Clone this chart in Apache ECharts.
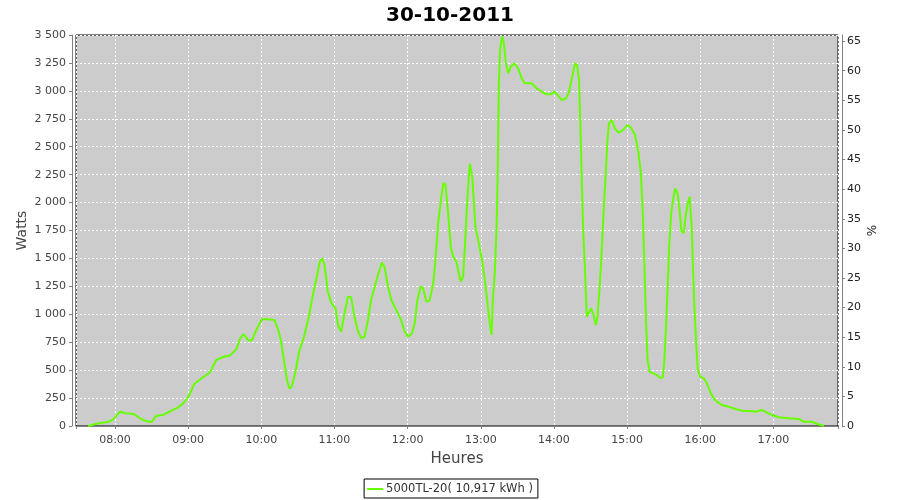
<!DOCTYPE html>
<html>
<head>
<meta charset="utf-8">
<script src="https://cdn.jsdelivr.net/npm/echarts@6/dist/echarts.min.js"></script>
<style>html,body{margin:0;padding:0;background:#fff}#c{width:900px;height:500px}</style>
</head>
<body>
<div id="c"></div>
<script>
const title = '30-10-2011';
const seriesName = '5000TL-20( 10,917 kWh )';
const times = ['07:38','07:45','07:49','07:54:30','07:58:40','08:04','08:09:30','08:15:30','08:20:30','08:26','08:30','08:33:40','08:39:50','08:46:40','08:52','08:56','09:00:20','09:05','09:11','09:17:40','09:23','09:29','09:34:30','09:39:30','09:42:40','09:45:30','09:49:40','09:52:25','09:56:30','10:00:35','10:05','10:10:40','10:13:30','10:16','10:19','10:21','10:23','10:25','10:28','10:31','10:35','10:39','10:42','10:45:30','10:48','10:50','10:51:50','10:54:35','10:57:20','11:00:50','11:02:50','11:05:30','11:08','11:11','11:13:40','11:16:25','11:19','11:22','11:24:40','11:27:30','11:30','11:33','11:35:40','11:39','11:41','11:44','11:46:35','11:50:40','11:54:50','11:57:30','12:00:30','12:03:35','12:05:50','12:08','12:10:40','12:12:40','12:15:25','12:18','12:21','12:22:50','12:25','12:27:40','12:29:20','12:31','12:33','12:35:25','12:37:20','12:40','12:42','12:43:35','12:45:30','12:46:55','12:48:20','12:49:40','12:51','12:53','12:55:35','12:58:25','13:01','13:03:20','13:05:30','13:07:25','13:08:50','13:10','13:11:30','13:13','13:14','13:14:50','13:15:50','13:17:35','13:19','13:20:35','13:22:30','13:24:40','13:27:30','13:30:40','13:33:30','13:36','13:41:40','13:45:50','13:50','13:54','13:57:20','14:00:20','14:03','14:06:20','14:09:55','14:12:25','14:15','14:17:20','14:19','14:20:35','14:21:40','14:22:50','14:24','14:25:30','14:26:55','14:28:20','14:30:25','14:32:25','14:34:30','14:35:40','14:37:20','14:38:40','14:40','14:41:25','14:42:40','14:43:55','14:45:10','14:47:25','14:50','14:53','14:56:30','15:00:20','15:03','15:06:35','15:09:25','15:11:20','15:13','15:14','15:15:35','15:16:50','15:18:25','15:21:40','15:24:25','15:27:40','15:29:25','15:30:25','15:31:50','15:33:10','15:34:30','15:36:10','15:38:05','15:39:30','15:41:25','15:43:05','15:44:25','15:46:25','15:48','15:49:40','15:51:20','15:51:50','15:53','15:53:50','15:55:05','15:56:50','15:58:05','16:00','16:02:50','16:05:30','16:08:10','16:11','16:13:40','16:17:50','16:23:20','16:28:50','16:34:20','16:39:50','16:45:10','16:50:40','16:54:50','16:58:55','17:04:25','17:12:40','17:20:55','17:25','17:31:50','17:36','17:41:25'];
const watts = [0,20,30,36,60,128,113,107,69,42,36,90,101,140,167,203,262,376,427,477,591,620,632,687,785,823,764,770,874,955,955,949,874,770,561,412,337,352,486,665,799,978,1157,1336,1471,1501,1441,1202,1104,1053,904,844,994,1157,1152,978,859,785,799,949,1128,1247,1352,1462,1426,1247,1128,1038,944,844,799,829,919,1128,1247,1232,1113,1122,1277,1486,1814,2052,2172,2166,1933,1605,1515,1471,1367,1292,1336,1591,1904,2142,2350,2232,1784,1635,1486,1307,1098,919,815,1157,1367,1784,2351,3068,3366,3490,3425,3247,3157,3216,3247,3202,3112,3068,3068,3023,2993,2969,2969,2993,2963,2918,2933,2993,3127,3247,3231,3097,2709,2202,1754,1396,978,994,1053,994,904,978,1217,1456,1754,2052,2291,2560,2709,2739,2665,2625,2649,2694,2673,2605,2441,2262,1873,1515,919,591,486,471,456,427,441,561,859,1217,1605,1904,2052,2127,2082,1933,1754,1725,1873,1993,2052,1963,1784,1486,1098,710,501,441,427,382,307,248,218,188,173,152,137,134,128,143,119,98,78,69,63,38,38,18,3];
const xStart = '07:28';
const xEnd = '17:53';
const nominalWatts = 5300;

function ts(s) {
  const p = s.split(':').map(Number);
  return new Date(2011, 9, 30, p[0], p[1], p[2] || 0).getTime();
}
const data = times.map((t, i) => [ts(t), watts[i]]);
const fmtW = v => {
  const s = String(Math.round(v));
  return s.length > 3 ? s.slice(0, -3) + ' ' + s.slice(-3) : s;
};
const font = 'DejaVu Sans';
const chart = echarts.init(document.getElementById('c'));
chart.setOption({
  animation: false,
  backgroundColor: '#fff',
  textStyle: { fontFamily: font },
  title: {
    text: title, left: 'center', top: 1,
    textStyle: { fontFamily: font, fontSize: 20, fontWeight: 'bold', color: '#000' }
  },
  legend: {
    bottom: 2, left: 'center',
    data: [{ name: seriesName, icon: 'rect' }],
    itemWidth: 16, itemHeight: 2, itemGap: 0,
    borderColor: '#000', borderWidth: 1, padding: [4, 5, 3, 3],
    textStyle: { fontFamily: font, fontSize: 11.5, color: '#333', padding: [0, 0, 0, -2] }
  },
  grid: {
    left: 76, right: 62, top: 35, bottom: 74,
    show: true, backgroundColor: '#cccccc', borderColor: '#000', borderWidth: 1
  },
  xAxis: {
    type: 'time', min: ts(xStart), max: ts(xEnd),
    minInterval: 3600000, maxInterval: 3600000,
    offset: 3,
    name: 'Heures', nameLocation: 'middle', nameGap: 23, nameMoveOverlap: false,
    nameTextStyle: { fontFamily: font, fontSize: 15, color: '#444' },
    axisLine: { lineStyle: { color: '#808080' } },
    axisTick: { show: true, length: 3, lineStyle: { color: '#808080' } },
    axisLabel: {
      margin: 6, fontFamily: font, fontSize: 11, color: '#444',
      showMinLabel: true, showMaxLabel: true,
      formatter: function (v) {
        const d = new Date(v);
        if (d.getMinutes() !== 0 || d.getSeconds() !== 0) return '';
        return String(d.getHours()).padStart(2, '0') + ':00';
      }
    },
    splitLine: { show: true, lineStyle: { color: '#fff', type: [2, 2], width: 1 } }
  },
  yAxis: [{
    type: 'value', min: 0, max: 3500, interval: 250,
    offset: 4,
    name: 'Watts', nameLocation: 'middle', nameGap: 43, nameMoveOverlap: false,
    nameTextStyle: { fontFamily: font, fontSize: 14, color: '#444' },
    axisLine: { show: true, lineStyle: { color: '#808080' } },
    axisTick: { show: true, length: 3, lineStyle: { color: '#808080' } },
    axisLabel: { margin: 6, fontFamily: font, fontSize: 11, color: '#444', formatter: fmtW },
    splitLine: { show: true, lineStyle: { color: '#fff', type: [2, 2], width: 1 } }
  }, {
    type: 'value', min: 0, max: 3500 / nominalWatts * 100, interval: 5,
    position: 'right', offset: 4,
    name: '%', nameLocation: 'middle', nameGap: 25, nameMoveOverlap: false,
    nameTextStyle: { fontFamily: font, fontSize: 12, color: '#222' },
    axisLine: { show: true, lineStyle: { color: '#808080' } },
    axisTick: { show: true, length: 3, lineStyle: { color: '#808080' } },
    axisLabel: {
      margin: 5, fontFamily: font, fontSize: 11, color: '#222', showMaxLabel: false,
      formatter: v => (Math.abs(v - Math.round(v)) < 1e-6 && Math.round(v) % 5 === 0) ? String(Math.round(v)) : ''
    },
    splitLine: { show: false }
  }],
  series: [{
    name: seriesName, type: 'line', data: data, showSymbol: false, symbol: 'none',
    itemStyle: { color: '#66ff00' },
    lineStyle: { color: '#66ff00', width: 2 }
  }]
});
</script>
</body>
</html>
